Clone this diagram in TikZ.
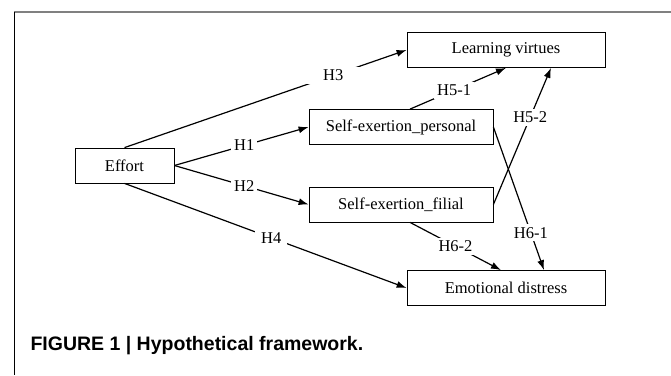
\documentclass[tikz,border=0pt]{standalone}
\usepackage{fontspec}
\setmainfont{Liberation Serif}
\newfontfamily\capfont{Liberation Sans}
\usepackage{tikz}
\usetikzlibrary{calc}
\usetikzlibrary{arrows.meta}

\begin{document}
\begin{tikzpicture}[x=1pt, y=-1pt,
    box/.style={draw, line width=0.8pt, minimum height=35pt, inner sep=0pt},
    hyp/.style={fill=white, inner sep=3pt},
    font=\fontsize{16.5}{18}\selectfont]
    \useasboundingbox (0, 0) rectangle (671, 375);
    % frame of the figure
    \draw [gray, line width=1.3pt] (14, 12) -- (671, 12);
    \draw [black, line width=1pt] (14, 12) -- (14, 375);
    % variables
    \node [box, minimum width=198pt] (lv) at (506, 50) {Learning virtues};
    \node [box, minimum width=184pt] (sp) at (401, 127) {Self-exertion\_personal};
    \node [box, minimum width=99pt] (ef) at (124.5, 165.5) {Effort};
    \node [box, minimum width=184pt] (sf) at (401, 204.5) {Self-exertion\_filial};
    \node [box, minimum width=198pt] (ed) at (506, 288) {Emotional distress};
    \coordinate (sp-n) at ([xshift=9pt]sp.north);
    \coordinate (sf-s) at ([xshift=9pt]sf.south);
    \coordinate (lv-s) at ([xshift=45pt]lv.south);
    \coordinate (ed-n) at ([xshift=38pt]ed.north);
    \coordinate (ed-nw) at ([xshift=-5pt]ed.north);
    % hypotheses
    \foreach \a\b\t\p\s in {ef.east/sp.west/H1/0.52/3, ef.east/sf.west/H2/0.52/3, ef.north/lv.west/H3/0.74/18, ef.south/ed.west/H4/0.52/6, sp-n/lv.south/H5-1/0.46/3, sf.east/lv-s/H5-2/0.64/3, sp.east/ed-n/H6-1/0.74/3, sf-s/ed-nw/H6-2/0.5/3} {
        \draw [-{Latex[length=10pt, width=7pt]}, line width=1.2pt] (\a) -- (\b) node [hyp, inner xsep=\s pt, pos=\p] {\t};
    }
    \node [anchor=base west, font=\capfont\bfseries\fontsize{19.5}{22}\selectfont] (cap) at (27, 350) {FIGURE 1 | Hypothetical framework.};
\end{tikzpicture}
\end{document}
